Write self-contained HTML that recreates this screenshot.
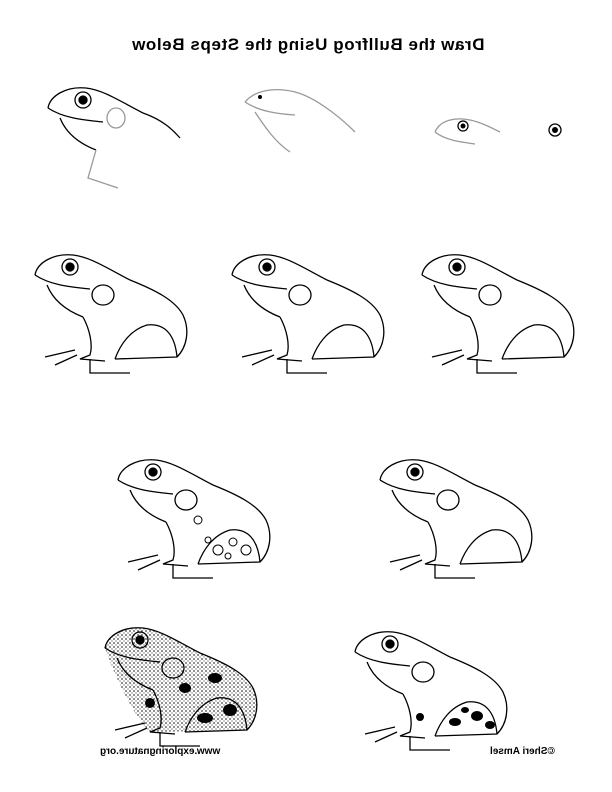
<!DOCTYPE html>
<html><head><meta charset="utf-8">
<style>
html,body{margin:0;padding:0;background:#fff;}
body{width:612px;height:792px;position:relative;overflow:hidden;font-family:"Liberation Sans",sans-serif;}
.mir{position:absolute;transform:scaleX(-1);white-space:nowrap;color:#000;}
svg{position:absolute;left:0;top:0;}
</style></head>
<body>
<div class="mir" style="left:118px;top:35px;width:380px;text-align:center;font-size:17px;font-weight:bold;letter-spacing:0.6px;">Draw the Bullfrog Using the Steps Below</div>
<div class="mir" style="left:100px;top:746px;font-size:10px;font-weight:bold;">www.exploringnature.org</div>
<div class="mir" style="left:490px;top:746px;font-size:10px;font-weight:bold;">©Sheri Amsel</div>
<svg width="612" height="792">
<defs>
<pattern id="stip" width="4" height="4" patternUnits="userSpaceOnUse"><circle cx="1" cy="1" r="0.9" fill="#000"/><circle cx="3" cy="3" r="0.6" fill="#000"/></pattern>
<g id="head" fill="none" stroke="#000" stroke-width="1.3">
<path d="M0 30 C2 18 18 8 38 10 C55 12 70 22 95 35"/>
<path d="M0 30 C15 40 35 42 55 44"/>
<path d="M12 40 C18 55 30 65 48 72"/>
<circle cx="35" cy="22" r="8"/><circle cx="35" cy="22" r="4" fill="#000"/>
</g>
<g id="body" fill="none" stroke="#000" stroke-width="1.3">
<path d="M95 35 C120 45 140 55 148 70 C155 85 152 102 142 112 L80 114"/>
<path d="M48 72 C55 85 58 100 55 110 L45 114 L70 116"/>
<path d="M80 114 C85 100 95 85 112 80 C130 78 140 90 142 112"/>
<path d="M40 105 L10 112 M42 110 L20 120 M55 114 L55 128 L95 128"/>
<ellipse cx="68" cy="50" rx="11" ry="10"/>
</g>
<g id="frog"><use href="#head"/><use href="#body"/></g>
</defs>
<g transform="translate(48,78)" fill="none" stroke="#000" stroke-width="1.3">
<use href="#head"/><path d="M95 35 C115 42 125 52 132 60" /><path d="M48 72 L40 100 L70 110" stroke="#999"/><ellipse cx="68" cy="40" rx="9" ry="10" stroke="#999"/>
</g>
<g transform="translate(245,82)" fill="none" stroke="#999" stroke-width="1.3">
<path d="M0 20 C10 8 30 5 50 10 C70 15 95 35 110 50"/><path d="M0 20 C15 30 35 32 50 33"/><path d="M10 30 C20 45 30 60 45 70"/><circle cx="15" cy="15" r="2" fill="#000" stroke="none"/>
</g>
<g transform="translate(435,112)" fill="none" stroke="#999" stroke-width="1.3">
<path d="M0 20 C5 8 20 5 35 8 C45 10 55 15 65 20"/><path d="M0 20 C10 28 25 30 40 32"/>
<circle cx="28" cy="14" r="5" stroke="#000"/><circle cx="28" cy="14" r="2.5" fill="#000" stroke="none"/>
<circle cx="120" cy="18" r="6" stroke="#000"/><circle cx="120" cy="18" r="3" fill="#000" stroke="none"/>
</g>
<use href="#frog" x="35" y="245"/>
<use href="#frog" x="232" y="245"/>
<use href="#frog" x="422" y="245"/>
<g transform="translate(118,450)">
<use href="#frog"/>
<g fill="none" stroke="#000" stroke-width="1"><circle cx="100" cy="100" r="5"/><circle cx="115" cy="92" r="4"/><circle cx="128" cy="100" r="5"/><circle cx="110" cy="106" r="3"/><circle cx="80" cy="70" r="4"/><circle cx="90" cy="90" r="3"/></g>
</g>
<use href="#frog" x="380" y="450"/>
<g transform="translate(105,618)">
<path d="M0 30 C2 18 18 8 38 10 C55 12 70 22 95 35 C120 45 140 55 148 70 C155 85 152 102 142 112 L45 114 C30 100 10 60 0 30Z" fill="url(#stip)" opacity="0.75"/>
<use href="#frog"/>
<g fill="#000"><ellipse cx="100" cy="100" rx="8" ry="5"/><ellipse cx="125" cy="92" rx="7" ry="6"/><ellipse cx="80" cy="70" rx="6" ry="5"/><ellipse cx="110" cy="60" rx="7" ry="5"/><ellipse cx="45" cy="85" rx="5" ry="5"/></g>
</g>
<g transform="translate(355,622)">
<use href="#frog"/>
<g fill="#000"><ellipse cx="100" cy="100" rx="6" ry="4"/><ellipse cx="122" cy="94" rx="6" ry="5"/><ellipse cx="135" cy="103" rx="5" ry="4"/><ellipse cx="110" cy="88" rx="4" ry="3"/><ellipse cx="65" cy="95" rx="4" ry="4"/></g>
</g>
</svg>
</body></html>
